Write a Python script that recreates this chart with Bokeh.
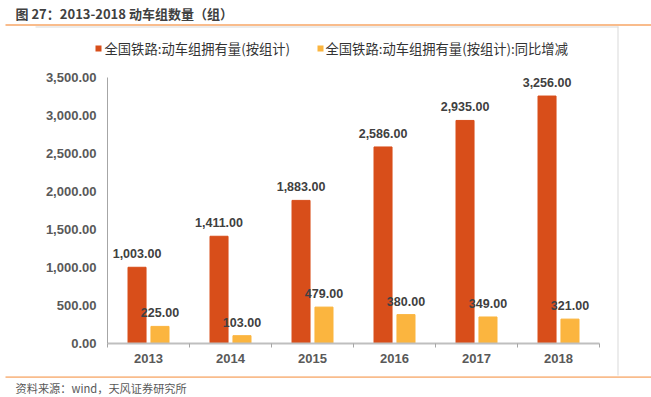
from bokeh.plotting import figure
from bokeh.models import (ColumnDataSource, LabelSet, FixedTicker,
                          NumeralTickFormatter, Range1d)
from bokeh.transform import dodge
from bokeh.core.properties import value
from bokeh.embed import file_html
from bokeh.resources import INLINE

# ---------------- data ----------------
years = [2013, 2014, 2015, 2016, 2017, 2018]
stock = [1003, 1411, 1883, 2586, 2935, 3256]
change = [225, 103, 479, 380, 349, 321]
y_ticks = [0, 500, 1000, 1500, 2000, 2500, 3000, 3500]
series_names = ["全国铁路:动车组拥有量(按组计)", "全国铁路:动车组拥有量(按组计):同比增减"]
title_text = "图 27：2013-2018 动车组数量（组）"
source_text = "资料来源：wind，天风证券研究所"

# ---------------- style / layout (page pixels) ----------------
RED = "#D84E1A"
YEL = "#FBB53F"
ORANGE_LINE = "#F9BC8C"
FRAME_GRAY = "#D9D9D9"
NUM_FONT = value("Liberation Sans")
CJK_FONT = value("Noto Sans CJK SC")
W, H = 651, 397
AX_LEFT, AX_ZERO, AX_TOP = 107, 343, 77     # page pixels of the axes box
CAT_PX = 82                                  # pixels per category
X_ORIGIN = years[0] - 0.5


def px_x(px):
    return X_ORIGIN + (px - AX_LEFT) / CAT_PX


def px_y(py):
    return (AX_ZERO - py) * y_ticks[-1] / (AX_ZERO - AX_TOP)


p = figure(width=W, height=H, output_backend="svg", toolbar_location=None,
           x_range=Range1d(px_x(0), px_x(W)), y_range=Range1d(px_y(H), px_y(0)),
           min_border=0, min_border_left=0, min_border_right=0,
           min_border_top=0, min_border_bottom=0)
p.outline_line_color = None
p.xgrid.visible = False
p.ygrid.visible = False


def hbox(x0, x1, y0, y1, color):
    p.quad(left=[px_x(x0)], right=[px_x(x1)], top=[px_y(y0)], bottom=[px_y(y1)],
           fill_color=color, line_color=None)


# ---------------- decorations ----------------
hbox(5, W, 23.5, 25.5, ORANGE_LINE)           # line under title
hbox(35, 618, 26, 27, FRAME_GRAY)             # chart frame top
hbox(617, 618, 26, 375, FRAME_GRAY)           # chart frame right
hbox(5, W, 375.8, 377.6, ORANGE_LINE)         # line above source

p.text(x=[px_x(15)], y=[px_y(13)], text=[title_text], text_baseline="middle",
       text_font=CJK_FONT, text_font_size="13px", text_font_style="bold",
       text_color="#404040")
p.text(x=[px_x(15)], y=[px_y(387)], text=[source_text], text_baseline="middle",
       text_font=CJK_FONT, text_font_size="11.2px", text_color="#595959")

# legend
p.rect(x=[px_x(98), px_x(320)], y=[px_y(48), px_y(48)], width=6, height=6,
       width_units="screen", height_units="screen", fill_color=[RED, YEL],
       line_color=None)
p.text(x=[px_x(104), px_x(325)], y=[px_y(48), px_y(48)], text=series_names,
       text_baseline="middle", text_font=CJK_FONT, text_font_size="13.3px",
       text_color="#333333")

# ---------------- bars ----------------
src = ColumnDataSource(dict(
    x=years, stock=stock, change=change,
    stock_lbl=[f"{v:,.2f}" for v in stock],
    change_lbl=[f"{v:,.2f}" for v in change],
))

p.vbar(x=dodge("x", -0.14, range=p.x_range), top="stock", width=0.22,
       source=src, fill_color=RED, line_color=RED)
p.vbar(x=dodge("x", 0.14, range=p.x_range), top="change", width=0.22,
       source=src, fill_color=YEL, line_color=YEL)

for col, top, off in (("stock_lbl", "stock", -0.14), ("change_lbl", "change", 0.14)):
    p.add_layout(LabelSet(x=dodge("x", off, range=p.x_range), y=top, text=col,
                          source=src, text_align="center",
                          text_baseline="alphabetic", y_offset=9,
                          text_font=NUM_FONT, text_font_size="12.5px",
                          text_font_style="bold", text_color="#404040"))

# ---------------- axes (fixed inside the frame) ----------------
p.yaxis.fixed_location = X_ORIGIN
p.yaxis.bounds = (y_ticks[0], y_ticks[-1])
p.yaxis.ticker = FixedTicker(ticks=y_ticks)
p.yaxis.formatter = NumeralTickFormatter(format="0,0.00")
p.yaxis.major_tick_line_color = None
p.yaxis.major_tick_out = 0
p.yaxis.minor_tick_line_color = None
p.yaxis.axis_line_color = "#A6A6A6"
p.yaxis.major_label_standoff = 11
p.yaxis.major_label_text_font = "Liberation Sans"
p.yaxis.major_label_text_font_size = "13px"
p.yaxis.major_label_text_font_style = "bold"
p.yaxis.major_label_text_color = "#595959"

p.xaxis.fixed_location = 0
p.xaxis.bounds = (X_ORIGIN, years[-1] + 0.5)
p.xaxis.ticker = FixedTicker(ticks=years,
                             minor_ticks=[y - 0.5 for y in years] + [years[-1] + 0.5])
p.xaxis.formatter = NumeralTickFormatter(format="0")
p.xaxis.major_tick_line_color = None
p.xaxis.major_tick_out = 0
p.xaxis.minor_tick_line_color = "#A6A6A6"
p.xaxis.minor_tick_in = 0
p.xaxis.minor_tick_out = 4
p.xaxis.axis_line_color = "#BFBFBF"
p.xaxis.axis_line_width = 2
p.xaxis.major_label_standoff = 6
p.xaxis.major_label_text_font = "Liberation Sans"
p.xaxis.major_label_text_font_size = "13px"
p.xaxis.major_label_text_font_style = "bold"
p.xaxis.major_label_text_color = "#595959"

open("out.html", "w").write(file_html(p, INLINE))
